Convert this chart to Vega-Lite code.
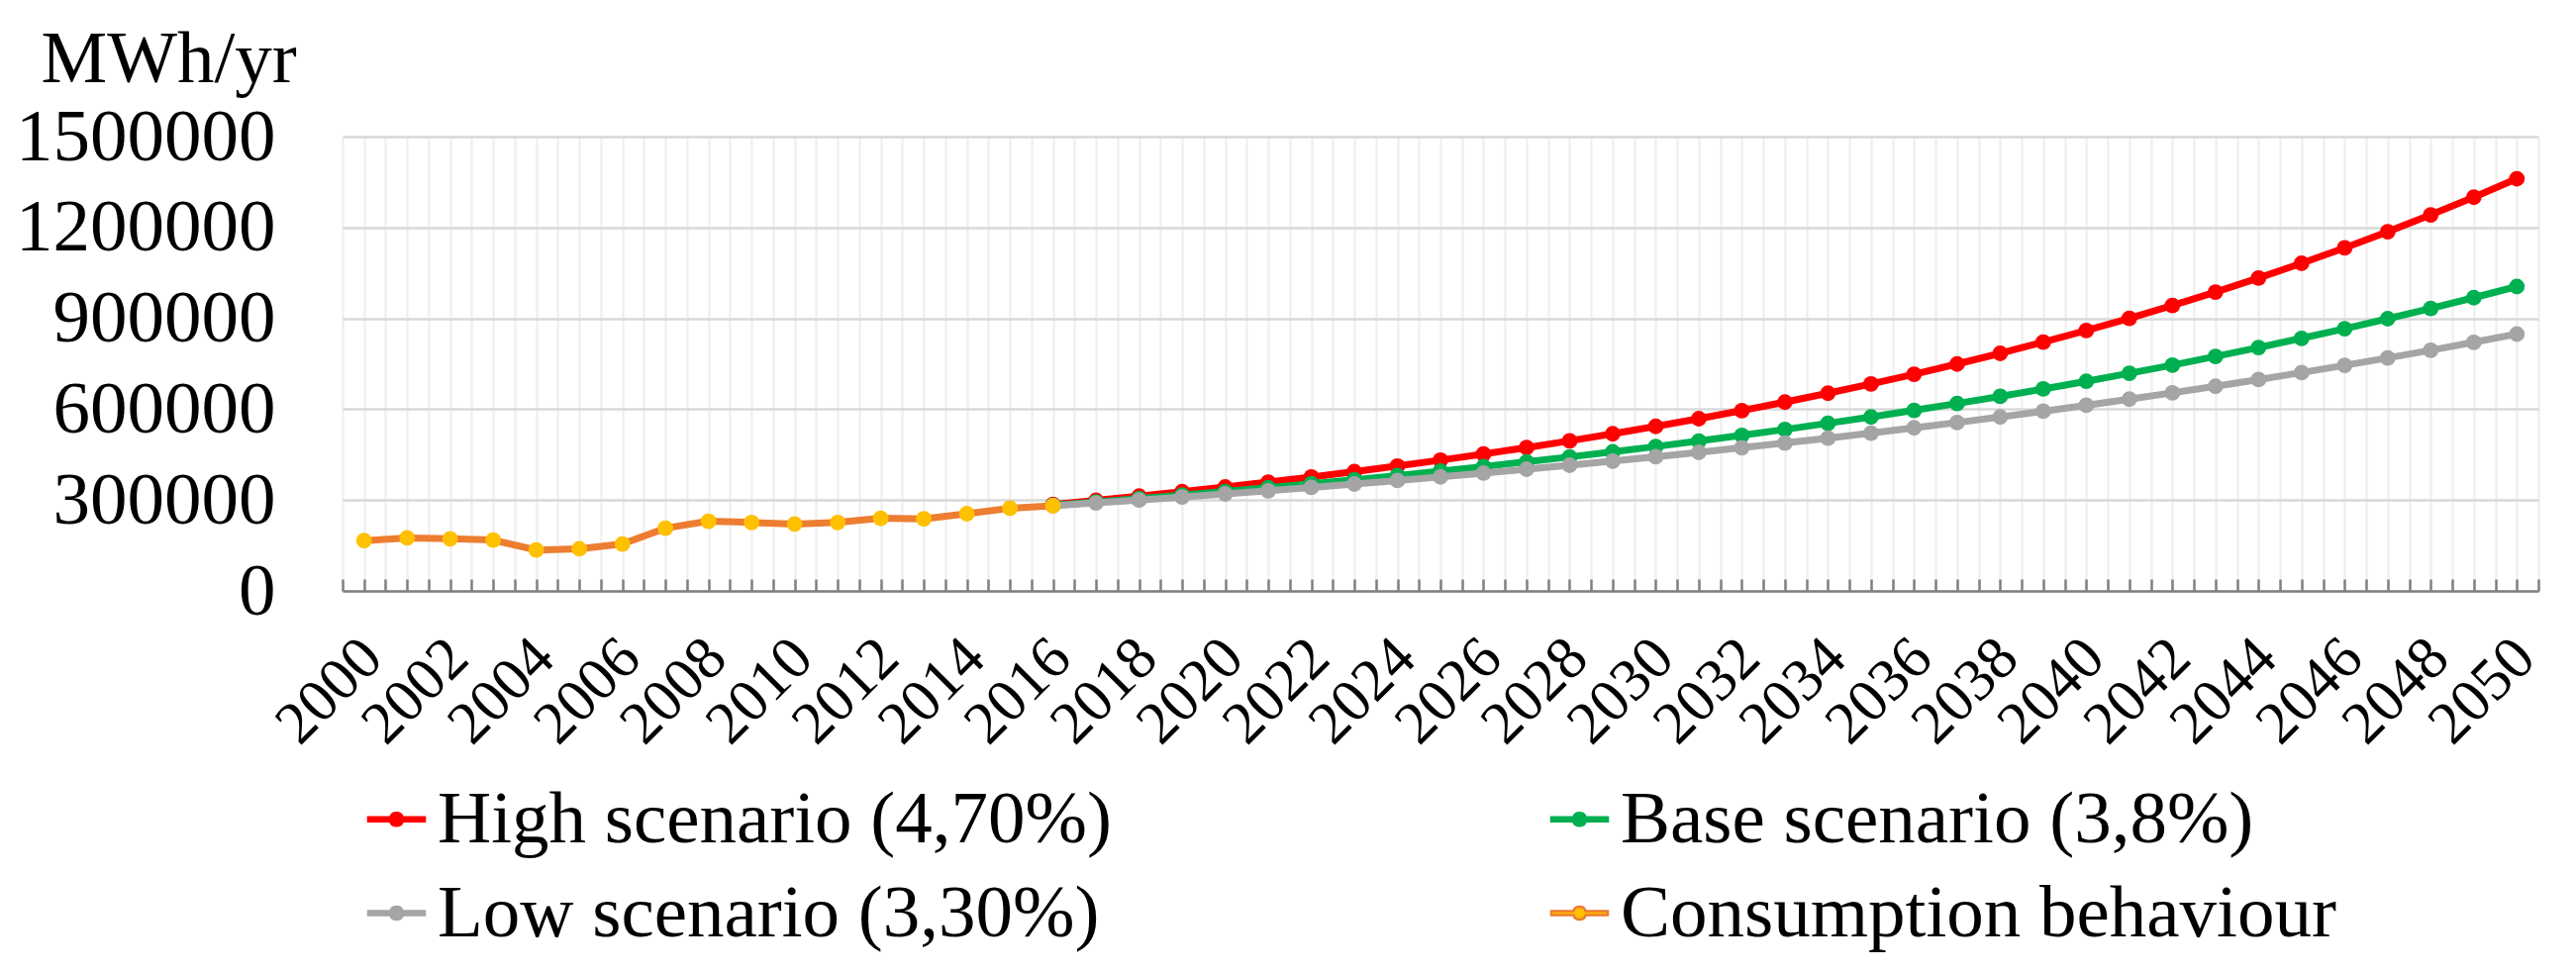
{
  "$schema": "https://vega.github.io/schema/vega-lite/v6.json",
  "width": 2218,
  "height": 459,
  "autosize": {"type": "none"},
  "padding": {"left": 346, "top": 138, "right": 38, "bottom": 385},
  "background": "white",
  "config": {"view": {"stroke": null}, "font": "Liberation Serif"},
  "data": {
    "values": [
      {"year": 2000, "series": "Consumption behaviour", "value": 166000},
      {"year": 2001, "series": "Consumption behaviour", "value": 175000},
      {"year": 2002, "series": "Consumption behaviour", "value": 172000},
      {"year": 2003, "series": "Consumption behaviour", "value": 168000},
      {"year": 2004, "series": "Consumption behaviour", "value": 135000},
      {"year": 2005, "series": "Consumption behaviour", "value": 139000},
      {"year": 2006, "series": "Consumption behaviour", "value": 155000},
      {"year": 2007, "series": "Consumption behaviour", "value": 207000},
      {"year": 2008, "series": "Consumption behaviour", "value": 230000},
      {"year": 2009, "series": "Consumption behaviour", "value": 226000},
      {"year": 2010, "series": "Consumption behaviour", "value": 221000},
      {"year": 2011, "series": "Consumption behaviour", "value": 226000},
      {"year": 2012, "series": "Consumption behaviour", "value": 240000},
      {"year": 2013, "series": "Consumption behaviour", "value": 238000},
      {"year": 2014, "series": "Consumption behaviour", "value": 255000},
      {"year": 2015, "series": "Consumption behaviour", "value": 273000},
      {"year": 2016, "series": "Consumption behaviour", "value": 281000},

      {"year": 2016, "series": "High scenario (4,70%)", "value": 285500},
      {"year": 2017, "series": "High scenario (4,70%)", "value": 299000},
      {"year": 2018, "series": "High scenario (4,70%)", "value": 313000},
      {"year": 2019, "series": "High scenario (4,70%)", "value": 327700},
      {"year": 2020, "series": "High scenario (4,70%)", "value": 343100},
      {"year": 2021, "series": "High scenario (4,70%)", "value": 359300},
      {"year": 2022, "series": "High scenario (4,70%)", "value": 376100},
      {"year": 2023, "series": "High scenario (4,70%)", "value": 393800},
      {"year": 2024, "series": "High scenario (4,70%)", "value": 412300},
      {"year": 2025, "series": "High scenario (4,70%)", "value": 431700},
      {"year": 2026, "series": "High scenario (4,70%)", "value": 452000},
      {"year": 2027, "series": "High scenario (4,70%)", "value": 473200},
      {"year": 2028, "series": "High scenario (4,70%)", "value": 495500},
      {"year": 2029, "series": "High scenario (4,70%)", "value": 518800},
      {"year": 2030, "series": "High scenario (4,70%)", "value": 543200},
      {"year": 2031, "series": "High scenario (4,70%)", "value": 568700},
      {"year": 2032, "series": "High scenario (4,70%)", "value": 595400},
      {"year": 2033, "series": "High scenario (4,70%)", "value": 623400},
      {"year": 2034, "series": "High scenario (4,70%)", "value": 652700},
      {"year": 2035, "series": "High scenario (4,70%)", "value": 683400},
      {"year": 2036, "series": "High scenario (4,70%)", "value": 715500},
      {"year": 2037, "series": "High scenario (4,70%)", "value": 749100},
      {"year": 2038, "series": "High scenario (4,70%)", "value": 784300},
      {"year": 2039, "series": "High scenario (4,70%)", "value": 821200},
      {"year": 2040, "series": "High scenario (4,70%)", "value": 859800},
      {"year": 2041, "series": "High scenario (4,70%)", "value": 900200},
      {"year": 2042, "series": "High scenario (4,70%)", "value": 942500},
      {"year": 2043, "series": "High scenario (4,70%)", "value": 986800},
      {"year": 2044, "series": "High scenario (4,70%)", "value": 1033200},
      {"year": 2045, "series": "High scenario (4,70%)", "value": 1081700},
      {"year": 2046, "series": "High scenario (4,70%)", "value": 1132600},
      {"year": 2047, "series": "High scenario (4,70%)", "value": 1185800},
      {"year": 2048, "series": "High scenario (4,70%)", "value": 1241600},
      {"year": 2049, "series": "High scenario (4,70%)", "value": 1299900},
      {"year": 2050, "series": "High scenario (4,70%)", "value": 1361000},

      {"year": 2016, "series": "Base scenario (3,8%)", "value": 282800},
      {"year": 2017, "series": "Base scenario (3,8%)", "value": 293500},
      {"year": 2018, "series": "Base scenario (3,8%)", "value": 304700},
      {"year": 2019, "series": "Base scenario (3,8%)", "value": 316300},
      {"year": 2020, "series": "Base scenario (3,8%)", "value": 328300},
      {"year": 2021, "series": "Base scenario (3,8%)", "value": 340800},
      {"year": 2022, "series": "Base scenario (3,8%)", "value": 353700},
      {"year": 2023, "series": "Base scenario (3,8%)", "value": 367100},
      {"year": 2024, "series": "Base scenario (3,8%)", "value": 381100},
      {"year": 2025, "series": "Base scenario (3,8%)", "value": 395600},
      {"year": 2026, "series": "Base scenario (3,8%)", "value": 410600},
      {"year": 2027, "series": "Base scenario (3,8%)", "value": 426200},
      {"year": 2028, "series": "Base scenario (3,8%)", "value": 442400},
      {"year": 2029, "series": "Base scenario (3,8%)", "value": 459200},
      {"year": 2030, "series": "Base scenario (3,8%)", "value": 476700},
      {"year": 2031, "series": "Base scenario (3,8%)", "value": 494800},
      {"year": 2032, "series": "Base scenario (3,8%)", "value": 513600},
      {"year": 2033, "series": "Base scenario (3,8%)", "value": 533100},
      {"year": 2034, "series": "Base scenario (3,8%)", "value": 553400},
      {"year": 2035, "series": "Base scenario (3,8%)", "value": 574400},
      {"year": 2036, "series": "Base scenario (3,8%)", "value": 596200},
      {"year": 2037, "series": "Base scenario (3,8%)", "value": 618900},
      {"year": 2038, "series": "Base scenario (3,8%)", "value": 642400},
      {"year": 2039, "series": "Base scenario (3,8%)", "value": 666800},
      {"year": 2040, "series": "Base scenario (3,8%)", "value": 692100},
      {"year": 2041, "series": "Base scenario (3,8%)", "value": 718400},
      {"year": 2042, "series": "Base scenario (3,8%)", "value": 745700},
      {"year": 2043, "series": "Base scenario (3,8%)", "value": 774100},
      {"year": 2044, "series": "Base scenario (3,8%)", "value": 803500},
      {"year": 2045, "series": "Base scenario (3,8%)", "value": 834000},
      {"year": 2046, "series": "Base scenario (3,8%)", "value": 865700},
      {"year": 2047, "series": "Base scenario (3,8%)", "value": 898600},
      {"year": 2048, "series": "Base scenario (3,8%)", "value": 932800},
      {"year": 2049, "series": "Base scenario (3,8%)", "value": 968200},
      {"year": 2050, "series": "Base scenario (3,8%)", "value": 1005000},

      {"year": 2016, "series": "Low scenario (3,30%)", "value": 281200},
      {"year": 2017, "series": "Low scenario (3,30%)", "value": 290500},
      {"year": 2018, "series": "Low scenario (3,30%)", "value": 300000},
      {"year": 2019, "series": "Low scenario (3,30%)", "value": 309900},
      {"year": 2020, "series": "Low scenario (3,30%)", "value": 320200},
      {"year": 2021, "series": "Low scenario (3,30%)", "value": 330700},
      {"year": 2022, "series": "Low scenario (3,30%)", "value": 341700},
      {"year": 2023, "series": "Low scenario (3,30%)", "value": 352900},
      {"year": 2024, "series": "Low scenario (3,30%)", "value": 364600},
      {"year": 2025, "series": "Low scenario (3,30%)", "value": 376600},
      {"year": 2026, "series": "Low scenario (3,30%)", "value": 389000},
      {"year": 2027, "series": "Low scenario (3,30%)", "value": 401900},
      {"year": 2028, "series": "Low scenario (3,30%)", "value": 415100},
      {"year": 2029, "series": "Low scenario (3,30%)", "value": 428800},
      {"year": 2030, "series": "Low scenario (3,30%)", "value": 443000},
      {"year": 2031, "series": "Low scenario (3,30%)", "value": 457600},
      {"year": 2032, "series": "Low scenario (3,30%)", "value": 472700},
      {"year": 2033, "series": "Low scenario (3,30%)", "value": 488300},
      {"year": 2034, "series": "Low scenario (3,30%)", "value": 504400},
      {"year": 2035, "series": "Low scenario (3,30%)", "value": 521100},
      {"year": 2036, "series": "Low scenario (3,30%)", "value": 538300},
      {"year": 2037, "series": "Low scenario (3,30%)", "value": 556000},
      {"year": 2038, "series": "Low scenario (3,30%)", "value": 574400},
      {"year": 2039, "series": "Low scenario (3,30%)", "value": 593300},
      {"year": 2040, "series": "Low scenario (3,30%)", "value": 612900},
      {"year": 2041, "series": "Low scenario (3,30%)", "value": 633100},
      {"year": 2042, "series": "Low scenario (3,30%)", "value": 654000},
      {"year": 2043, "series": "Low scenario (3,30%)", "value": 675600},
      {"year": 2044, "series": "Low scenario (3,30%)", "value": 697900},
      {"year": 2045, "series": "Low scenario (3,30%)", "value": 720900},
      {"year": 2046, "series": "Low scenario (3,30%)", "value": 744700},
      {"year": 2047, "series": "Low scenario (3,30%)", "value": 769300},
      {"year": 2048, "series": "Low scenario (3,30%)", "value": 794700},
      {"year": 2049, "series": "Low scenario (3,30%)", "value": 820900},
      {"year": 2050, "series": "Low scenario (3,30%)", "value": 848000}
    ]
  },
  "encoding": {
    "x": {
      "field": "year",
      "type": "quantitative",
      "scale": {"domain": [1999.5, 2050.5], "nice": false, "zero": false},
      "axis": {
        "values": [1999.5, 2000, 2000.5, 2001, 2001.5, 2002, 2002.5, 2003, 2003.5, 2004, 2004.5, 2005, 2005.5, 2006, 2006.5, 2007, 2007.5, 2008, 2008.5, 2009, 2009.5, 2010, 2010.5, 2011, 2011.5, 2012, 2012.5, 2013, 2013.5, 2014, 2014.5, 2015, 2015.5, 2016, 2016.5, 2017, 2017.5, 2018, 2018.5, 2019, 2019.5, 2020, 2020.5, 2021, 2021.5, 2022, 2022.5, 2023, 2023.5, 2024, 2024.5, 2025, 2025.5, 2026, 2026.5, 2027, 2027.5, 2028, 2028.5, 2029, 2029.5, 2030, 2030.5, 2031, 2031.5, 2032, 2032.5, 2033, 2033.5, 2034, 2034.5, 2035, 2035.5, 2036, 2036.5, 2037, 2037.5, 2038, 2038.5, 2039, 2039.5, 2040, 2040.5, 2041, 2041.5, 2042, 2042.5, 2043, 2043.5, 2044, 2044.5, 2045, 2045.5, 2046, 2046.5, 2047, 2047.5, 2048, 2048.5, 2049, 2049.5, 2050, 2050.5],
        "labelExpr": "datum.value % 2 == 0 ? format(datum.value, 'd') : ''",
        "labelAngle": -45,
        "labelAlign": "right",
        "labelBaseline": "middle",
        "labelFont": "Liberation Serif",
        "labelFontSize": 61,
        "labelColor": "black",
        "labelPadding": 70,
        "labelOffset": 8,
        "labelOverlap": false,
        "labelFlush": false,
        "labelBound": false,
        "labelLimit": 1000,
        "tickSize": -12,
        "tickColor": "#808080",
        "tickWidth": 2.5,
        "domainColor": "#808080",
        "domainWidth": 2.7,
        "grid": true,
        "gridColor": "#efefef",
        "gridWidth": 2.2,
        "title": null,
        "encode": {"ticks": {"update": {"strokeOpacity": {"signal": "datum.value % 1 == 0 ? 1 : 0"}}}}
      }
    },
    "y": {
      "field": "value",
      "type": "quantitative",
      "scale": {"domain": [0, 1500000], "nice": false},
      "axis": {
        "values": [0, 300000, 600000, 900000, 1200000, 1500000],
        "format": "d",
        "labelFont": "Liberation Serif",
        "labelFontSize": 75,
        "labelColor": "black",
        "labelPadding": 68,
        "labelLimit": 1000,
        "ticks": false,
        "domain": false,
        "grid": true,
        "gridColor": "#d9d9d9",
        "gridWidth": 2.5,
        "title": "MWh/yr",
        "titleAngle": 0,
        "titleX": -305,
        "titleY": -56,
        "titleAlign": "left",
        "titleBaseline": "alphabetic",
        "titleFont": "Liberation Serif",
        "titleFontSize": 75,
        "titleFontWeight": "normal",
        "titleColor": "black",
        "titleLimit": 1000
      }
    }
  },
  "layer": [
    {
      "transform": [{"filter": "datum.series === 'High scenario (4,70%)'"}],
      "mark": {"type": "line", "strokeWidth": 7},
      "encoding": {
        "color": {
          "field": "series", "type": "nominal",
          "scale": {"domain": ["High scenario (4,70%)", "Base scenario (3,8%)", "Low scenario (3,30%)", "Consumption behaviour"], "range": ["#ff0000", "#00b050", "#a5a5a5", "#ed7d31"]},
          "legend": {
            "title": null, "orient": "none", "direction": "horizontal", "legendX": 17, "legendY": 652, "columns": 2, "columnPadding": 434, "rowPadding": 19, "padding": 0,
            "symbolType": "M-1,-0.07H-0.2191A0.23,0.23 0 0,1 0.2191,-0.07H1V0.07H0.2191A0.23,0.23 0 0,1 -0.2191,0.07H-1Z",
            "symbolSize": 3249, "symbolStrokeWidth": 2.5,
            "labelFont": "Liberation Serif", "labelFontSize": 75, "labelColor": "black", "labelLimit": 3000, "labelOffset": 4,
            "encode": {"symbols": {"update": {
              "fill": {"signal": "datum.value === 'Consumption behaviour' ? '#ffc000' : scale('color', datum.value)"},
              "fillOpacity": {"value": 1},
              "opacity": {"value": 1}
            }}}
          }
        }
      }
    },
    {
      "transform": [{"filter": "datum.series === 'High scenario (4,70%)'"}],
      "mark": {"type": "circle", "size": 250, "opacity": 1, "color": "#ff0000"}
    },
    {
      "transform": [{"filter": "datum.series === 'Base scenario (3,8%)'"}],
      "mark": {"type": "line", "strokeWidth": 7},
      "encoding": {"color": {"field": "series", "type": "nominal"}}
    },
    {
      "transform": [{"filter": "datum.series === 'Base scenario (3,8%)'"}],
      "mark": {"type": "circle", "size": 250, "opacity": 1, "color": "#00b050"}
    },
    {
      "transform": [{"filter": "datum.series === 'Low scenario (3,30%)'"}],
      "mark": {"type": "line", "strokeWidth": 7},
      "encoding": {"color": {"field": "series", "type": "nominal"}}
    },
    {
      "transform": [{"filter": "datum.series === 'Low scenario (3,30%)'"}],
      "mark": {"type": "circle", "size": 250, "opacity": 1, "color": "#a5a5a5"}
    },
    {
      "transform": [{"filter": "datum.series === 'Consumption behaviour'"}],
      "mark": {"type": "line", "strokeWidth": 7},
      "encoding": {"color": {"field": "series", "type": "nominal"}}
    },
    {
      "transform": [{"filter": "datum.series === 'Consumption behaviour'"}],
      "mark": {"type": "circle", "size": 250, "opacity": 1, "color": "#ffc000"}
    }
  ]
}
